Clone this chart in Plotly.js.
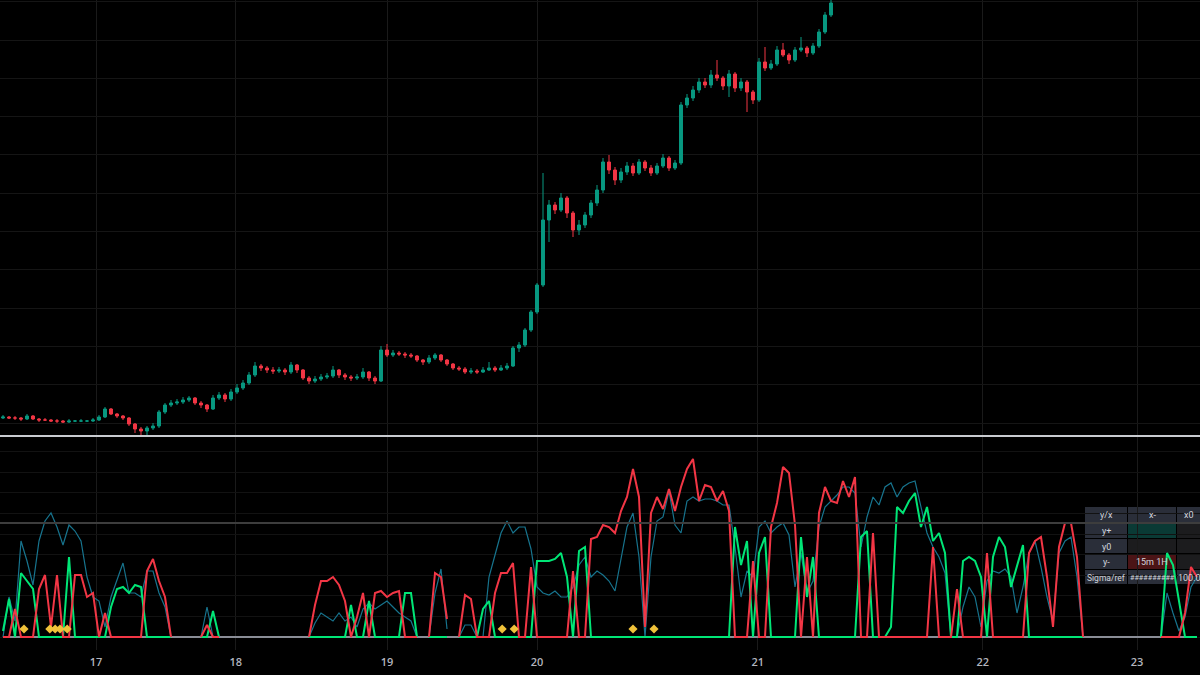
<!DOCTYPE html>
<html>
<head>
<meta charset="utf-8">
<script src="https://cdn.plot.ly/plotly-3.0.1.min.js"></script>
<style>
  html, body { margin: 0; padding: 0; background: #000; }
  #chart { width: 1200px; height: 675px; }
</style>
</head>
<body>
<div id="chart"></div>
<script>
// ---------- DATA ----------
// x-axis day labels and the bar index where each day label sits
const dayLabels = ['17', '18', '19', '20', '21', '22', '23'];
const dayTickIdx = [15.5, 38.8, 64, 89, 125.8, 163.3, 189];

// price candles (arbitrary price units)
const candleOpen = [32,33,32,32,31,34,31,30,30,29, 29,28,29,29,29,29,30,33,41,36, 34,32,26,21,19,22,24,38,45,47,
  48,50,52,47,45,41,52,55,51,58, 62,67,75,84,82,80,79,80,78,85, 80,72,69,71,73,74,80,75,73,72,
  73,78,72,69,100,95,97,96,95,94, 90,88,92,95,90,86,82,81,78,79, 78,80,82,80,82,84,102,105,120,138,
  165,230,245,240,252,237,220,225,235,247, 260,288,280,270,278,284,277,288,282,277, 284,292,282,287,345,352,360,368,365,375,
  372,364,376,362,368,358,350,388,382,386, 400,395,390,400,402,397,404,418,435];
const candleHigh = [35,34,34,33,36,35,32,32,31,31, 30,31,30,31,30,32,35,43,42,37, 35,33,27,23,24,27,40,47,50,51,
  53,54,53,49,46,55,58,57,61,66, 70,78,88,86,84,83,83,82,88,86, 81,74,74,76,77,84,81,77,75,76,
  82,79,74,104,106,100,99,98,97,95, 91,95,97,96,91,87,84,83,82,81, 83,88,84,85,87,104,108,122,140,167,
  277,250,248,257,254,239,230,238,250,265, 292,295,283,282,288,287,291,290,285,287, 296,294,290,348,356,364,372,372,380,390,
  374,380,378,372,370,360,392,403,390,404, 407,397,403,413,404,407,421,438,455];
const candleLow = [31,31,30,29,30,30,28,29,28,27, 27,27,28,28,28,28,29,32,35,32, 30,24,17,14,15,20,22,36,43,45,
  46,48,45,42,38,40,50,48,49,56, 60,65,73,79,77,76,77,75,76,77, 70,66,67,69,71,72,72,70,69,70,
  71,69,66,68,93,93,94,92,92,88, 85,86,90,88,84,80,79,76,76,76, 77,79,78,79,80,83,98,103,118,136,
  163,208,236,238,232,213,215,222,232,244, 257,276,265,267,275,274,275,279,274,275, 282,279,280,285,342,349,357,362,362,369,
  360,353,358,359,338,346,348,379,380,384, 393,386,388,398,393,395,402,416,433];
const candleClose = [33,32,32,31,34,31,30,30,29,29, 28,29,29,29,29,30,33,41,36,34, 32,26,21,19,22,24,38,45,47,48,
  50,52,47,45,41,52,55,51,58,62, 67,75,84,82,80,79,80,78,85,80, 72,69,71,73,74,80,75,73,72,73,
  78,72,69,100,95,97,96,95,94,90, 88,92,95,90,86,82,81,78,79,78, 80,82,80,82,84,102,105,120,138,165,
  230,245,240,252,237,220,225,235,247,260, 288,280,270,278,284,277,288,282,277,284, 292,282,287,345,352,360,368,365,375,372,
  364,376,362,368,358,350,388,382,386,400, 395,390,400,402,397,404,418,435,447];

// indicator series (null = no signal)
const N = null;
const sellLine = [
  0,0,14,0,0,0,24,31,5,31,   0,0,31,31,20,22,0,12,0,0,   0,0,0,0,33,39,28,20,0,N,
  N,N,N,0,6,0,0,N,N,N,       N,N,N,N,N,N,N,N,N,N,        N,0,16,28,28,30,26,18,0,10,
  22,0,22,23,20,22,23,0,0,0, N,0,32,30,9,N,0,21,19,0,    0,0,22,32,32,37,0,0,35,0,
  0,0,0,0,0,33,0,0,49,50,    56,55,52,63,70,84,70,5,62,70, 64,74,63,75,84,89,68,76,75,68,
  73,63,0,0,0,38,0,0,55,67,  85,82,56,0,40,0,62,75,68,67, 78,70,80,0,0,52,0,0,0,0,
  0,0,0,0,0,45,0,0,0,24,     0,0,0,0,42,0,0,0,0,0,       0,42,48,50,30,5,45,57,57,40,
  0,N,N,N,N,N,N,N,N,N,       N,N,N,0,0,0,0,12,35,30];
const buyLine = [
  3,19,0,32,28,24,0,0,0,0,   0,40,0,0,0,0,0,0,15,24,     25,22,26,25,0,0,0,0,0,N,
  N,N,N,0,0,13,0,N,N,N,      N,N,N,N,N,N,N,N,N,N,        N,0,0,0,0,0,0,0,16,0,
  0,18,0,0,0,0,0,22,22,0,    N,0,0,0,0,N,0,0,0,0,        14,18,0,0,0,0,0,0,0,38,
  38,38,39,42,30,0,43,45,0,0, 0,0,0,0,0,0,0,0,0,0,       0,0,0,0,0,0,0,0,0,0,
  0,0,55,36,48,0,42,50,0,0,  0,0,0,50,20,40,0,0,0,0,     0,0,0,50,53,0,0,0,5,65,
  62,68,72,55,65,48,52,42,0,0, 38,40,38,30,0,40,50,45,25,35, 46,0,0,0,0,0,0,0,0,0,
  0,N,N,N,N,N,N,N,N,N,       N,N,N,0,42,36,18,0,0,0];
const sigmaLine = [
  0,20,8,48,38,26,48,58,62,55, 46,56,53,48,30,20,18,5,20,28, 37,22,22,20,33,33,22,15,0,N,
  N,N,N,0,15,0,0,N,N,N,      N,N,N,N,N,N,N,N,N,N,        N,0,7,12,10,8,12,8,10,5,
  14,17,14,16,18,15,12,10,8,0, N,0,22,34,4,N,0,6,6,0,     0,30,41,52,58,52,55,55,44,25,
  22,21,23,20,20,25,36,40,30,33, 31,28,23,40,55,62,40,0,40,58, 60,73,56,52,68,70,68,69,69,68,
  66,66,45,20,33,30,55,58,52,55, 57,51,25,42,22,28,55,65,68,71, 75,75,72,45,60,70,66,75,77,70,
  75,77,78,65,52,45,40,32,0,0, 15,25,20,5,28,33,32,34,30,12, 25,42,48,35,20,8,42,48,50,30,
  0,N,N,N,N,N,N,N,N,N,       N,N,N,0,22,12,3,10,25,30];
const thresholdLevel = 57;

// signal markers (bar index, level)
const signalIdx = [3.5, 7.8, 8.7, 9.5, 10.7, 83.2, 85.2, 105, 108.5];
const signalLevel = [4, 4, 4, 4, 4, 4, 4, 4, 4];

// table contents
const tblColHeads = ['y/x', 'x-', 'x0'];
const tblRowHeads = ['y+', 'y0', 'y-', 'Sigma/ref'];
const tblCells = [['', ''], ['', ''], ['15m 1H', ''], ['##########', '100.0']];
const tblCellColors = [['#0a3a35', '#1c1c1e'], ['#1c1c1e', '#1c1c1e'], ['#4b1416', '#1c1c1e'], ['#2a2e39', '#2a2e39']];

// ---------- BUILD ----------
const candleIdx = candleClose.map((_, i) => i);
const indIdx = sigmaLine.map((_, i) => i);
const baseLine = sigmaLine.map(() => 0);

const traces = [
  {
    type: 'candlestick', x: candleIdx, open: candleOpen, high: candleHigh, low: candleLow, close: candleClose,
    xaxis: 'x', yaxis: 'y', whiskerwidth: 0, hoverinfo: 'skip',
    increasing: { line: { color: '#089981', width: 1 }, fillcolor: '#089981' },
    decreasing: { line: { color: '#f23645', width: 1 }, fillcolor: '#f23645' }
  },
  { type: 'scatter', mode: 'lines', x: indIdx, y: baseLine, xaxis: 'x', yaxis: 'y2',
    line: { color: '#8a8d96', width: 2 }, hoverinfo: 'skip' },
  { type: 'scatter', mode: 'lines', x: indIdx, y: sigmaLine, xaxis: 'x', yaxis: 'y2',
    line: { color: '#17748e', width: 1.2 }, hoverinfo: 'skip' },
  { type: 'scatter', mode: 'lines', x: indIdx, y: buyLine, xaxis: 'x', yaxis: 'y2',
    line: { color: '#00e676', width: 2 }, hoverinfo: 'skip' },
  { type: 'scatter', mode: 'lines', x: indIdx, y: sellLine, xaxis: 'x', yaxis: 'y2',
    line: { color: '#f23645', width: 2 }, hoverinfo: 'skip' },
  { type: 'scatter', mode: 'markers', x: signalIdx, y: signalLevel, xaxis: 'x', yaxis: 'y2',
    marker: { symbol: 'diamond', size: 7, color: '#f0c23a' }, hoverinfo: 'skip' }
];

// table geometry (pixels within the 1200 x 650 plotting paper)
const W = 1200, H = 650;
const colEdges = [[1085, 1127], [1128, 1176], [1177, 1240]];
const colText = [1106, 1152, 1189];
const rowEdges = [[507, 522], [523, 538], [539, 553], [554, 569], [570, 584]];
const px = v => v / W;
const py = v => 1 - v / H;

const shapes = [
  { type: 'line', xref: 'paper', yref: 'paper', x0: 0, x1: 1, y0: py(436), y1: py(436),
    line: { color: '#c9cbd0', width: 2 } },
  { type: 'line', xref: 'paper', yref: 'y2', x0: 0, x1: 1, y0: thresholdLevel, y1: thresholdLevel,
    line: { color: '#3d3d3d', width: 2 } }
];
const annotations = [];
function cell(ci, ri, fill, text) {
  const [x0, x1] = colEdges[ci], [y0, y1] = rowEdges[ri];
  shapes.push({ type: 'rect', xref: 'paper', yref: 'paper', layer: 'below',
    x0: px(x0), x1: px(x1), y0: py(y1), y1: py(y0), fillcolor: fill, line: { width: 0 } });
  if (text) {
    const sz = text.length >= 10 ? 7.2 : (text.length >= 8 ? 8.5 : 9);
    annotations.push({ xref: 'paper', yref: 'paper', x: px(colText[ci]), y: py((y0 + y1) / 2 + 0.5),
      text: text, showarrow: false, xanchor: 'center', yanchor: 'middle',
      font: { family: 'Roboto, sans-serif', size: sz, color: '#d1d4dc' } });
  }
}
tblColHeads.forEach((t, ci) => cell(ci, 0, '#2a2e39', t));
tblRowHeads.forEach((t, ri) => {
  cell(0, ri + 1, '#2a2e39', t);
  tblCells[ri].forEach((t2, k) => cell(k + 1, ri + 1, tblCellColors[ri][k], t2));
});

const layout = {
  width: 1200, height: 675,
  margin: { l: 0, r: 0, t: 0, b: 25 },
  paper_bgcolor: '#000000', plot_bgcolor: 'rgba(0,0,0,0)',
  showlegend: false,
  xaxis: {
    anchor: 'y2', range: [-0.5, 199.5], tickmode: 'array', tickvals: dayTickIdx, ticktext: dayLabels,
    showgrid: true, gridcolor: '#1a1a1a', gridwidth: 1, zeroline: false, showline: false, ticks: '',
    ticklabelstandoff: 4,
    tickfont: { family: 'Open Sans, sans-serif', size: 11, color: '#b2b5be', weight: 600 },
    rangeslider: { visible: false }, fixedrange: true
  },
  yaxis: {
    domain: [1 - 436 / 650, 1], range: [14, 450], tick0: 27, dtick: 38.3,
    showticklabels: false, showgrid: true, gridcolor: '#151515', zeroline: false, fixedrange: true
  },
  yaxis2: {
    domain: [0, 1 - 437 / 650], range: [-6.5, 100], tick0: 0, dtick: 10.3,
    showticklabels: false, showgrid: true, gridcolor: '#121212', zeroline: false, fixedrange: true
  },
  shapes: shapes,
  annotations: annotations
};

Plotly.newPlot('chart', traces, layout, { displayModeBar: false, staticPlot: true });
</script>
</body>
</html>
